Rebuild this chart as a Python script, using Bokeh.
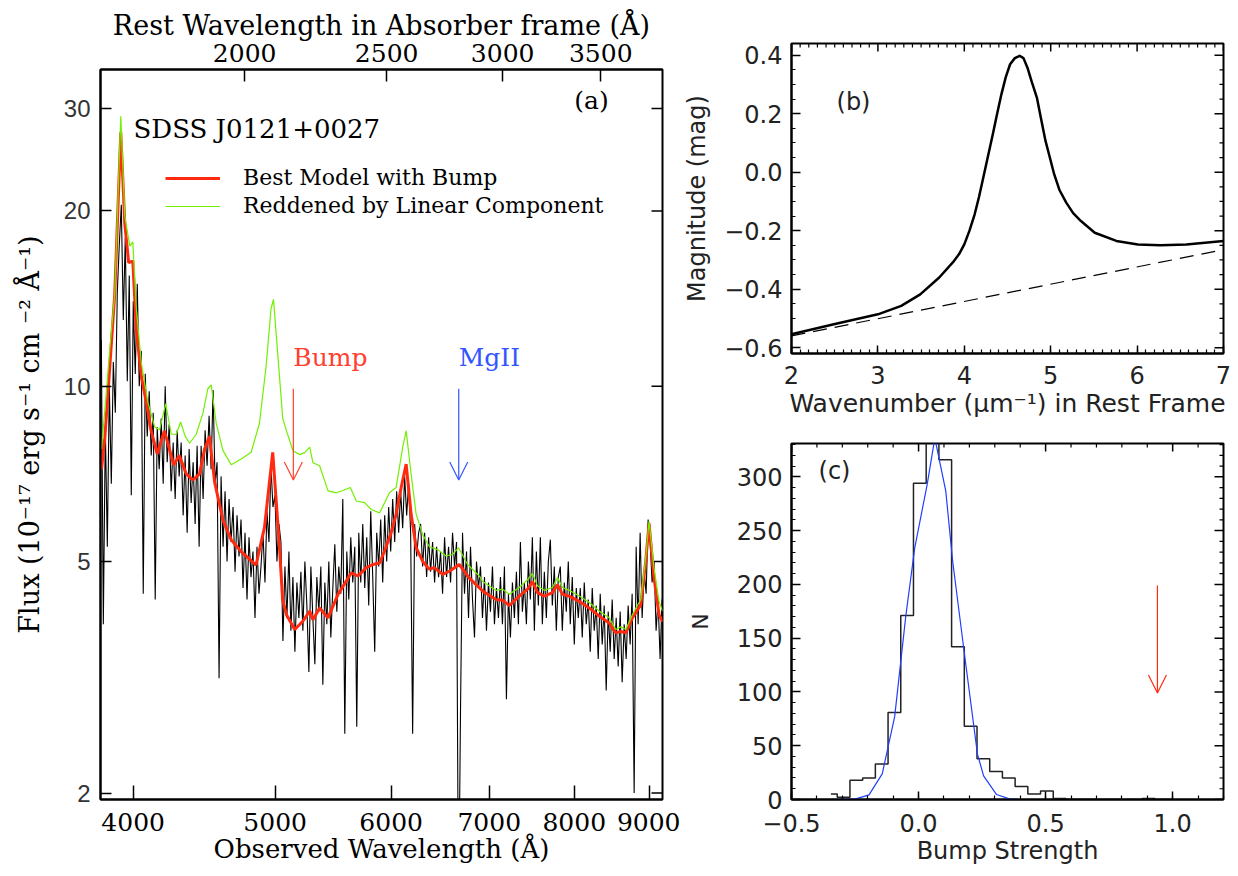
import numpy as np
from bokeh.plotting import figure
from bokeh.models import (Range1d, LogAxis, FixedTicker, SingleIntervalTicker,
                          PrintfTickFormatter, CustomJSTickFormatter, Label, Arrow, OpenHead,
                          Legend, LegendItem, LogScale)
from bokeh.layouts import row, column
from bokeh.embed import file_html
from bokeh.resources import INLINE

# ---------------- data: panel (a) ----------------
z_abs = 1.383                     # absorber redshift (rest = observed / (1+z))
obs_range = (3800, 9190)
flux_range = (1.95, 35)
obs_ticks = [4000, 5000, 6000, 7000, 8000, 9000]
rest_ticks = [2000, 2500, 3000, 3500]
flux_ticks = [2, 5, 10, 20, 30]

# observed spectrum (black), SDSS log-linear pixels from 3805 to 9184 A
black_flux = [
    12.0, 3.9, 8.5, 5.3, 10.0, 6.8, 11.0, 9.0, 14.5, 17.5,
    20.5, 13.0, 18.0, 10.2, 15.5, 6.5, 14.0, 10.5, 15.0, 10.0,
    11.5, 4.4, 10.5, 8.2, 9.8, 7.6, 9.0, 4.3, 8.5, 7.2,
    8.8, 6.8, 10.0, 7.4, 8.6, 6.6, 8.0, 6.4, 8.4, 7.0,
    8.0, 6.0, 7.6, 5.6, 7.8, 6.3, 7.4, 5.8, 7.9, 5.3,
    7.9, 6.4, 8.4, 7.3, 8.9, 7.2, 9.85, 6.8, 7.4, 3.15,
    7.0, 5.3, 6.6, 5.0, 6.4, 5.4, 6.2, 4.8, 6.0, 5.1,
    5.9, 4.5, 5.6, 4.3, 5.5, 4.7, 5.2, 4.0, 5.3, 4.4,
    4.9, 5.6, 4.6, 6.1, 5.4, 7.3, 6.2, 6.5, 5.0, 5.8,
    5.4, 3.65, 4.9, 4.0, 5.2, 3.8, 4.7, 3.5, 4.6, 4.0,
    4.8, 3.8, 5.0, 4.2, 3.23, 4.9, 4.0, 3.33, 4.7, 4.1,
    4.9, 3.07, 4.6, 3.9, 5.0, 3.7, 4.5, 5.35, 4.1, 4.9,
    4.4, 6.4, 2.53, 5.2, 4.3, 5.5, 4.6, 5.3, 2.6, 5.6,
    4.6, 5.8, 4.5, 5.5, 4.2, 6.1, 4.7, 3.5, 5.6, 4.9,
    5.9, 4.6, 6.0, 5.0, 6.2, 5.2, 6.4, 5.4, 6.6, 5.6,
    6.6, 5.7, 7.0, 6.0, 6.8, 5.6, 2.53, 5.8, 5.1, 5.6,
    5.8, 4.9, 5.6, 4.7, 5.5, 4.8, 5.4, 4.6, 5.3, 4.7,
    5.2, 4.4, 5.5, 4.7, 5.3, 4.6, 5.6, 4.9, 5.4, 1.2,
    2.8, 5.6, 4.4, 5.2, 4.0, 5.3, 4.3, 3.7, 5.0, 4.5,
    4.9, 4.0, 4.7, 3.8, 4.6, 4.1, 4.9, 3.9, 4.5, 4.0,
    4.7, 3.9, 4.9, 2.9, 4.4, 3.7, 4.6, 4.0, 4.8, 3.9,
    5.4, 4.1, 4.6, 3.9, 5.0, 4.3, 5.5, 3.8, 5.2, 4.2,
    5.5, 3.9, 4.8, 4.0, 5.0, 5.45, 4.2, 4.9, 3.8, 4.7,
    4.9, 3.8, 4.6, 4.1, 5.0, 3.9, 4.7, 3.6, 4.5, 4.0,
    4.5, 3.7, 4.6, 3.9, 4.3, 3.5, 4.5, 3.8, 4.2, 3.4,
    4.4, 3.6, 4.2, 3.0, 4.1, 3.5, 4.3, 3.4, 4.0, 3.3,
    4.1, 3.1, 3.9, 3.4, 4.2, 3.6, 4.4, 2.0, 5.3, 3.9,
    5.6, 4.0, 4.8, 4.4, 5.9, 5.4, 4.6, 5.0, 3.8, 4.3,
    3.4, 4.3,
]
black_wave = np.geomspace(3805, 9184, len(black_flux))

# best model with bump (red)
red_wave = [3806, 3826, 3856, 3886, 3923, 3948, 3972, 3998, 4020, 4052, 4083, 4115, 4154,
            4201, 4235, 4263, 4301, 4348, 4394, 4440, 4475, 4510, 4546, 4606, 4666, 4740,
            4852, 4917, 4981, 5034, 5059, 5090, 5156, 5224, 5279, 5306, 5362, 5433, 5519,
            5592, 5636, 5695, 5770, 5830, 5892, 5938, 6000, 6047, 6095, 6143, 6191, 6240,
            6305, 6371, 6421, 6506, 6574, 6678, 6784, 6927, 7074, 7148, 7224, 7338, 7434,
            7492, 7551, 7632, 7731, 7792, 7854, 7937, 8062, 8190, 8319, 8451, 8540, 8607,
            8675, 8765, 8881, 8951, 8998, 9068, 9140, 9190]
red_flux = [7.2, 8.15, 10.8, 14.4, 27.3, 19.0, 16.3, 16.4, 12.5, 10.4, 9.4, 8.38, 7.65,
            8.38, 7.8, 7.32, 7.6, 7.07, 6.9, 7.07, 7.8, 8.2, 6.85, 5.89, 5.45, 5.2,
            4.93, 5.72, 7.7, 5.3, 4.3, 4.05, 3.82, 3.95, 4.11, 3.97, 4.16, 4.0, 4.39,
            4.63, 4.78, 4.72, 4.88, 4.94, 4.97, 5.21, 5.6, 6.03, 6.7, 7.35, 6.03, 5.28,
            5.0, 4.85, 4.88, 4.75, 4.81, 4.94, 4.68, 4.45, 4.3, 4.29, 4.2, 4.36, 4.48,
            4.62, 4.42, 4.36, 4.42, 4.56, 4.39, 4.36, 4.27, 4.16, 4.03, 3.92, 3.77, 3.79,
            3.77, 4.0, 4.21, 5.0, 5.81, 4.69, 4.05, 3.94]

# reddened by linear component only (green)
green_wave = [3806, 3830, 3856, 3886, 3923, 3948, 3979, 3998, 4020, 4052, 4094, 4138, 4170,
              4210, 4247, 4280, 4310, 4341, 4371, 4417, 4464, 4498, 4522, 4558, 4606, 4666,
              4740, 4815, 4878, 4929, 4968, 4987, 5020, 5060, 5090, 5143, 5197, 5238, 5279,
              5306, 5362, 5433, 5505, 5562, 5627, 5680, 5755, 5815, 5892, 5984, 6047, 6110,
              6143, 6191, 6240, 6305, 6371, 6454, 6540, 6608, 6670, 6765, 6891, 6927, 7074,
              7148, 7224, 7338, 7434, 7492, 7551, 7632, 7731, 7792, 7854, 7937, 8062, 8190,
              8319, 8451, 8540, 8607, 8675, 8765, 8881, 8951, 8998, 9068, 9140, 9190]
green_flux = [7.8, 9.38, 11.6, 14.4, 29.1, 19.6, 17.4, 17.7, 13.6, 10.96, 9.38, 8.51, 8.42,
              9.33, 8.27, 8.27, 8.68, 8.2, 7.98, 8.27, 9.0, 9.9, 10.05, 8.63, 7.76, 7.33,
              7.5, 7.7, 8.63, 10.8, 13.6, 14.1, 11.4, 8.8, 8.38, 7.74, 7.63, 7.69, 7.86,
              7.39, 7.3, 6.61, 6.56, 6.62, 6.7, 6.35, 6.31, 6.14, 6.06, 6.56, 6.7, 7.86,
              8.38, 7.06, 6.03, 5.56, 5.3, 5.24, 5.11, 5.14, 5.28, 4.94, 4.72, 4.62, 4.46,
              4.48, 4.39, 4.51, 4.65, 4.77, 4.54, 4.46, 4.51, 4.69, 4.51, 4.46, 4.36, 4.25,
              4.11, 4.0, 3.82, 3.86, 3.82, 4.05, 4.3, 5.07, 5.86, 4.88, 4.27, 4.11]

# feature markers
bump_wave = 5145
mgii_wave = 6672
marker_top = 9.9
marker_tip = 6.9
marker_text_flux = 11.2

# ---------------- data: panel (b) ----------------
wn_range = (2, 7)
magb_range = (-0.62, 0.44)
wn = [2.0, 2.49, 3.0, 3.27, 3.49, 3.71, 3.88, 3.94, 4.0, 4.06, 4.12, 4.17, 4.22, 4.33,
      4.38, 4.43, 4.48, 4.53, 4.585, 4.64, 4.685, 4.73, 4.78, 4.84, 4.89, 4.94, 4.99,
      5.04, 5.1, 5.18, 5.26, 5.35, 5.51, 5.76, 6.01, 6.27, 6.57, 7.0]
mag_bump = [-0.554, -0.52, -0.486, -0.457, -0.418, -0.36, -0.304, -0.28, -0.247, -0.2,
            -0.144, -0.085, -0.018, 0.13, 0.2, 0.267, 0.325, 0.369, 0.39, 0.398, 0.39,
            0.358, 0.31, 0.255, 0.18, 0.107, 0.05, -0.007, -0.06, -0.104, -0.14, -0.167,
            -0.207, -0.235, -0.247, -0.25, -0.247, -0.235]
wn_lin = [2.0, 7.0]
mag_lin = [-0.56, -0.265]

# ---------------- data: panel (c) ----------------
strength_range = (-0.5, 1.2)
count_range = (0, 331)
hist_center = [-0.345, -0.295, -0.245, -0.195, -0.145, -0.095, -0.045, 0.005, 0.055, 0.105,
               0.155, 0.205, 0.255, 0.305, 0.355, 0.405, 0.455, 0.505, 0.555, 0.605,
               0.655, 0.705, 0.755, 0.805, 0.855, 0.905, 0.955, 1.005]
hist_count = [5, 2, 18, 20, 33, 81, 171, 294, 345, 316, 142, 68, 38, 26, 20, 12, 5, 8, 1, 0,
              0, 0, 0, 0, 0, 1, 0, 0]
gauss_x = [-0.345, -0.247, -0.195, -0.143, -0.094, -0.05, -0.015, 0.034, 0.064, 0.107,
           0.134, 0.184, 0.232, 0.256, 0.307, 0.357, 0.40, 1.0]
gauss_y = [0, 0.6, 4.3, 23.8, 77, 171, 234, 293, 336, 287, 222, 129, 42, 22, 4.6, 0.6, 0, 0]
observed_strength = 0.94
arrow_c_top = 199
arrow_c_tip = 99

# ---------------- styling ----------------
SERIF = "DejaVu Serif"
SANS = "DejaVu Sans"
RED = "#ff2a10"
GREEN = "#72f000"
TXT_RED = "#ff4030"
TXT_BLUE = "#3355ff"
GAUSS_BLUE = "#1f3fff"
GREY = "#222222"

minus_fmt = CustomJSTickFormatter(code="""
    var v = Math.abs(tick) < 1e-9 ? 0 : tick;
    return v.toFixed(1).replace('-', '\\u2212');
""")


def style(ax, tick_in, minor_in=0, font=SANS, size="24px", color=GREY, standoff=8,
          label_font=None, label_size="24px", label_standoff=4, label_color=None):
    ax.axis_line_width = 2
    ax.axis_line_color = "black"
    ax.major_tick_in = tick_in
    ax.major_tick_out = 0
    ax.major_tick_line_width = 1.5
    ax.minor_tick_in = minor_in
    ax.minor_tick_out = 0
    ax.minor_tick_line_width = 1.2
    ax.major_label_text_font = font
    ax.major_label_text_font_size = size
    ax.major_label_text_color = color
    ax.major_label_standoff = standoff
    ax.axis_label_text_font = label_font or font
    ax.axis_label_text_font_size = label_size
    ax.axis_label_text_font_style = "normal"
    ax.axis_label_text_color = label_color or color
    ax.axis_label_standoff = label_standoff


def mirror_ticks(p, positions, at, side, length, width=1.5):
    """Inward tick marks on the top / right frame edge (mirrors of the axis ticks)."""
    pos = list(positions)
    if side == "top":
        p.ray(x=pos, y=[at] * len(pos), length=length, angle=-np.pi / 2,
              length_units="screen", line_color="black", line_width=width)
    else:
        p.ray(x=[at] * len(pos), y=pos, length=length, angle=np.pi,
              length_units="screen", line_color="black", line_width=width)


# ================= panel (a) =================
pa = figure(width=680, height=872, x_axis_type="log", y_axis_type="log",
            x_range=Range1d(*obs_range), y_range=Range1d(*flux_range),
            output_backend="svg", toolbar_location=None,
            min_border_left=100, min_border_right=18, min_border_top=69, min_border_bottom=73)
pa.xgrid.visible = False
pa.ygrid.visible = False
pa.outline_line_color = "black"
pa.outline_line_width = 2

pa.extra_x_ranges = {"rest": Range1d(obs_range[0] / (1 + z_abs), obs_range[1] / (1 + z_abs))}
pa.extra_x_scales = {"rest": LogScale()}

xb = pa.xaxis[0]
xb.ticker = FixedTicker(ticks=obs_ticks)
xb.formatter = PrintfTickFormatter(format="%d")
xb.axis_label = "Observed Wavelength (Å)"
style(xb, 14, font=SERIF, size="25px", color="black", standoff=13,
      label_size="26px", label_standoff=0)

yl = pa.yaxis[0]
yl.ticker = FixedTicker(ticks=flux_ticks)
yl.formatter = PrintfTickFormatter(format="%d")
yl.axis_label = "Flux (10⁻¹⁷ erg s⁻¹ cm ⁻² Å⁻¹)"
style(yl, 11, font="Liberation Sans", size="24px", color="#333333", standoff=10,
      label_font=SERIF, label_size="27px", label_standoff=16, label_color="black")

xt = LogAxis(x_range_name="rest", ticker=FixedTicker(ticks=rest_ticks),
             formatter=PrintfTickFormatter(format="%d"),
             axis_label="Rest Wavelength in Absorber frame (Å)")
style(xt, 12, font=SERIF, size="25px", color="black", standoff=8,
      label_size="27px", label_standoff=0)
pa.add_layout(xt, "above")

mirror_ticks(pa, flux_ticks, obs_range[1], "right", 11)

pa.line(black_wave, black_flux, line_color="black", line_width=1.1)
r_red = pa.line(red_wave, red_flux, line_color=RED, line_width=3)
r_green = pa.line(green_wave, green_flux, line_color=GREEN, line_width=1.2)

legend = Legend(items=[LegendItem(label="Best Model with Bump", renderers=[r_red]),
                       LegendItem(label="Reddened by Linear Component", renderers=[r_green])],
                location=(65, 581), glyph_width=55, glyph_height=20, label_height=20,
                label_standoff=23, spacing=3, padding=0, margin=0,
                border_line_alpha=0, background_fill_alpha=0,
                label_text_font=SERIF, label_text_font_size="22px", label_text_color="black")
pa.add_layout(legend)

pa.add_layout(Label(x=33, y=671, x_units="screen", y_units="screen", text="SDSS J0121+0027",
                    text_font=SERIF, text_font_size="26px", text_baseline="middle",
                    text_color="black"))
pa.add_layout(Label(x=491, y=699, x_units="screen", y_units="screen", text="(a)",
                    text_font=SERIF, text_font_size="25px", text_baseline="middle",
                    text_align="center", text_color="black"))

pa.add_layout(Label(x=bump_wave, y=marker_text_flux, text="Bump", text_font=SERIF,
                    text_font_size="25px", text_color=TXT_RED, text_baseline="middle"))
pa.add_layout(Label(x=mgii_wave, y=marker_text_flux, text="MgII", text_font=SERIF,
                    text_font_size="25px", text_color=TXT_BLUE, text_baseline="middle"))
pa.add_layout(Arrow(x_start=bump_wave, y_start=marker_top, x_end=bump_wave, y_end=marker_tip,
                    line_color=TXT_RED, line_width=1.2,
                    end=OpenHead(size=18, line_color=TXT_RED, line_width=1.2)))
pa.add_layout(Arrow(x_start=mgii_wave, y_start=marker_top, x_end=mgii_wave, y_end=marker_tip,
                    line_color=TXT_BLUE, line_width=1.2,
                    end=OpenHead(size=18, line_color=TXT_BLUE, line_width=1.2)))

# ================= panel (b) =================
pb = figure(width=553, height=428, x_range=Range1d(*wn_range), y_range=Range1d(*magb_range),
            output_backend="svg", toolbar_location=None,
            min_border_left=107, min_border_right=10, min_border_top=43, min_border_bottom=75)
pb.xgrid.visible = False
pb.ygrid.visible = False
pb.outline_line_color = "black"
pb.outline_line_width = 2

ax = pb.xaxis[0]
ax.ticker = SingleIntervalTicker(interval=1, num_minor_ticks=10)
ax.axis_label = "Wavenumber (μm⁻¹) in Rest Frame"
style(ax, 8, 4, standoff=12, label_size="25px", label_standoff=2)
ay = pb.yaxis[0]
ay.ticker = SingleIntervalTicker(interval=0.2, num_minor_ticks=4)
ay.formatter = minus_fmt
ay.axis_label = "Magnitude (mag)"
style(ay, 9, 4, standoff=9, label_size="24px", label_standoff=10)

b_xmaj = np.arange(wn_range[0], wn_range[1] + 0.01, 1.0)
b_xmin = [v for v in np.arange(wn_range[0], wn_range[1] + 0.01, 0.1)
          if abs(v - round(v)) > 0.01]
b_ymaj = np.arange(-0.6, 0.41, 0.2)
b_ymin = [v for v in np.arange(-0.6, 0.44, 0.05)
          if abs(v / 0.2 - round(v / 0.2)) > 0.01]
mirror_ticks(pb, b_xmaj, magb_range[1], "top", 8)
mirror_ticks(pb, b_xmin, magb_range[1], "top", 4, 1.2)
mirror_ticks(pb, b_ymaj, wn_range[1], "right", 9)
mirror_ticks(pb, b_ymin, wn_range[1], "right", 4, 1.2)

pb.line(wn, mag_bump, line_color="black", line_width=2.5, line_join="round")
pb.line(wn_lin, mag_lin, line_color="black", line_width=1.2, line_dash="14 8")
pb.add_layout(Label(x=62, y=252, x_units="screen", y_units="screen", text="(b)",
                    text_font=SANS, text_font_size="24px", text_baseline="middle",
                    text_align="center", text_color=GREY))

# ================= panel (c) =================
pc = figure(width=553, height=444, x_range=Range1d(*strength_range),
            y_range=Range1d(*count_range),
            output_backend="svg", toolbar_location=None,
            min_border_left=107, min_border_right=10, min_border_top=15, min_border_bottom=73)
pc.xgrid.visible = False
pc.ygrid.visible = False
pc.outline_line_color = "black"
pc.outline_line_width = 2

cx = pc.xaxis[0]
cx.ticker = SingleIntervalTicker(interval=0.5, num_minor_ticks=5)
cx.formatter = minus_fmt
cx.axis_label = "Bump Strength"
style(cx, 8, 4, standoff=14, label_size="24px", label_standoff=2)
cy = pc.yaxis[0]
cy.ticker = SingleIntervalTicker(interval=50, num_minor_ticks=5)
cy.axis_label = "N"
style(cy, 9, 4, standoff=9, label_size="22px", label_standoff=21)

c_xmaj = np.arange(-0.5, 1.21, 0.5)
c_xmin = [v for v in np.arange(-0.5, 1.21, 0.1) if abs(v / 0.5 - round(v / 0.5)) > 0.01]
c_ymaj = np.arange(0, 331, 50)
c_ymin = [v for v in np.arange(0, 331, 10) if v % 50 != 0]
mirror_ticks(pc, c_xmaj, count_range[1], "top", 8)
mirror_ticks(pc, c_xmin, count_range[1], "top", 4, 1.2)
mirror_ticks(pc, c_ymaj, strength_range[1], "right", 9)
mirror_ticks(pc, c_ymin, strength_range[1], "right", 4, 1.2)

pc.step(hist_center, hist_count, mode="center", line_color=GREY, line_width=1.5)
pc.line(gauss_x, gauss_y, line_color=GAUSS_BLUE, line_width=1.2)
pc.add_layout(Arrow(x_start=observed_strength, y_start=arrow_c_top, x_end=observed_strength,
                    y_end=arrow_c_tip, line_color=RED, line_width=1.2,
                    end=OpenHead(size=18, line_color=RED, line_width=1.2)))
pc.add_layout(Label(x=43, y=329, x_units="screen", y_units="screen", text="(c)",
                    text_font=SANS, text_font_size="24px", text_baseline="middle",
                    text_align="center", text_color=GREY))

layout = row(pa, column(pb, pc))
open("out.html", "w").write(file_html(layout, INLINE, title="SDSS J0121+0027"))
